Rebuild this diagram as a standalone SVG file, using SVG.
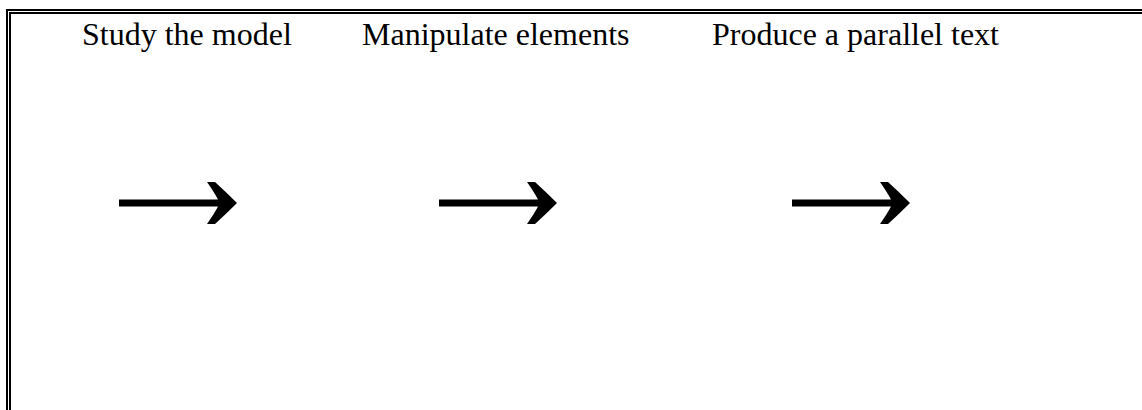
<svg xmlns="http://www.w3.org/2000/svg" width="1142" height="410" viewBox="0 0 1142 410">
<style>
.lbl{font-family:"Liberation Serif","Times New Roman",serif;font-size:32px;fill:#000}
.frame{fill:none;stroke:#000;stroke-width:2}
</style>
<defs>
<path id="arr" d="M-118,-3.5 H-19 Q-23,-11 -30,-21 H-22 Q-11,-11 0,0 Q-11,11 -22,21 H-30 Q-23,11 -19,3.5 H-118 Z" fill="#000"/>
</defs>
<rect width="1142" height="410" fill="#fff"/>
<g id="frame">
<rect class="frame" x="7" y="10" width="1160" height="420"/>
<rect class="frame" x="10" y="13" width="1160" height="420"/>
</g>
<g id="step1"><text class="lbl" x="82" y="45">Study the model</text></g>
<g id="step2"><text class="lbl" x="362" y="45">Manipulate elements</text></g>
<g id="step3"><text class="lbl" x="712" y="45">Produce a parallel text</text></g>
<g id="connectors">
<use href="#arr" transform="translate(237,203)"/>
<use href="#arr" transform="translate(557,203)"/>
<use href="#arr" transform="translate(910,203)"/>
</g>
</svg>
